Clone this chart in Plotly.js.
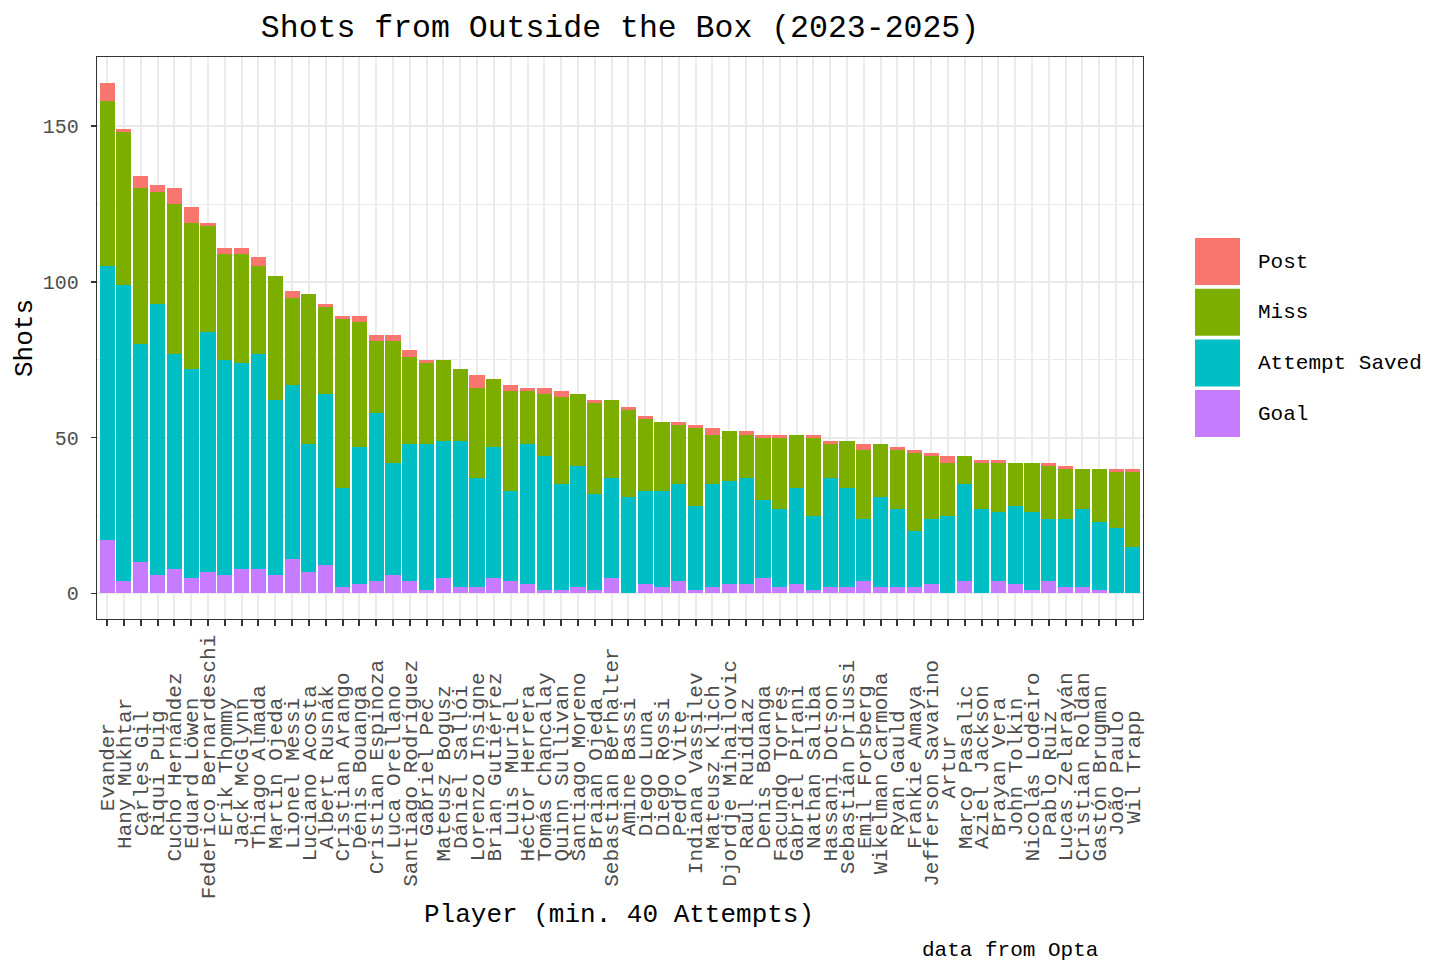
<!DOCTYPE html>
<html>
<head>
<meta charset="utf-8">
<script src="https://cdn.plot.ly/plotly-3.0.1.min.js"></script>
<style>
  html, body { margin: 0; padding: 0; background: #ffffff; }
  #chart { width: 1456px; height: 977px; }
</style>
</head>
<body>
<div id="chart"></div>
<script>
// players, sorted by total attempts from outside the box
var players = [
  'Evander', 'Hany Mukhtar', 'Carles Gil', 'Riqui Puig', 'Cucho Hernández',
  'Eduard Löwen', 'Federico Bernardeschi', 'Erik Thommy', 'Jack McGlynn', 'Thiago Almada',
  'Martín Ojeda', 'Lionel Messi', 'Luciano Acosta', 'Albert Rusnák', 'Cristian Arango',
  'Dénis Bouanga', 'Cristian Espinoza', 'Luca Orellano', 'Santiago Rodríguez', 'Gabriel Pec',
  'Mateusz Bogusz', 'Dániel Sallói', 'Lorenzo Insigne', 'Brian Gutiérrez', 'Luis Muriel',
  'Héctor Herrera', 'Tomás Chancalay', 'Quinn Sullivan', 'Santiago Moreno', 'Braian Ojeda',
  'Sebastian Berhalter', 'Amine Bassi', 'Diego Luna', 'Diego Rossi', 'Pedro Vite',
  'Indiana Vassilev', 'Mateusz Klich', 'Djordje Mihailovic', 'Raúl Ruidíaz', 'Denis Bouanga',
  'Facundo Torres', 'Gabriel Pirani', 'Nathan Saliba', 'Hassani Dotson', 'Sebastián Driussi',
  'Emil Forsberg', 'Wikelman Carmona', 'Ryan Gauld', 'Frankie Amaya', 'Jefferson Savarino',
  'Artur', 'Marco Pasalic', 'Aziel Jackson', 'Brayan Vera', 'John Tolkin',
  'Nicolás Lodeiro', 'Pablo Ruiz', 'Lucas Zelarayán', 'Cristian Roldan', 'Gastón Brugman',
  'João Paulo', 'Wil Trapp'
];

// shot outcomes per player
var goal = [
  17, 4, 10, 6, 8, 5, 7, 6, 8, 8,
  6, 11, 7, 9, 2, 3, 4, 6, 4, 1,
  5, 2, 2, 5, 4, 3, 1, 1, 2, 1,
  5, 0, 3, 2, 4, 1, 2, 3, 3, 5,
  2, 3, 1, 2, 2, 4, 2, 2, 2, 3,
  0, 4, 0, 4, 3, 1, 4, 2, 2, 1,
  0, 0
];
var saved = [
  88, 95, 70, 87, 69, 67, 77, 69, 66, 69,
  56, 56, 41, 55, 32, 44, 54, 36, 44, 47,
  44, 47, 35, 42, 29, 45, 43, 34, 39, 31,
  32, 31, 30, 31, 31, 27, 33, 33, 34, 25,
  25, 31, 24, 35, 32, 20, 29, 25, 18, 21,
  25, 31, 27, 22, 25, 25, 20, 22, 25, 22,
  21, 15
];
var miss = [
  53, 49, 50, 36, 48, 47, 34, 34, 35, 28,
  40, 28, 48, 28, 54, 40, 23, 39, 28, 26,
  26, 23, 29, 22, 32, 17, 20, 28, 23, 29,
  25, 28, 23, 22, 19, 25, 16, 16, 14, 20,
  23, 17, 25, 11, 15, 22, 17, 19, 25, 20,
  17, 9, 15, 16, 14, 16, 17, 16, 13, 17,
  18, 24
];
var post = [
  6, 1, 4, 2, 5, 5, 1, 2, 2, 3,
  0, 2, 0, 1, 1, 2, 2, 2, 2, 1,
  0, 0, 4, 0, 2, 1, 2, 2, 0, 1,
  0, 1, 1, 0, 1, 1, 2, 0, 1, 1,
  1, 0, 1, 1, 0, 2, 0, 1, 1, 1,
  2, 0, 1, 1, 0, 0, 1, 1, 0, 0,
  1, 1
];

// stacked bottom to top
var outcomes = ['Goal', 'Attempt Saved', 'Miss', 'Post'];
var counts = [goal, saved, miss, post];
var colors = ['#C77CFF', '#00BFC4', '#7CAE00', '#F8766D'];

var FONT = '"Courier New", "Nimbus Mono PS", FreeMono, "Liberation Mono", monospace';
var NBSP = '\u00A0';

// ggplot centres rotated labels; pad with spaces (monospace) to fake it
var maxLen = Math.max.apply(null, players.map(p => p.length));
var tickText = players.map(function(p) {
    var extra = maxLen - p.length;
    var left = Math.floor(extra / 2), right = extra - left;
    return NBSP.repeat(left) + p.replace(/ /g, NBSP) + NBSP.repeat(right);
});

var traces = outcomes.map(function(name, i) {
    return {
        type: 'bar',
        name: name,
        x: players,
        y: counts[i],
        marker: { color: colors[i], line: { width: 0 } },
        hovertemplate: '%{x}<br>' + name + ': %{y}<extra></extra>'
    };
});

// plot area in pixels
var W = 1456, H = 977;
var L = 97, R = 1143, T = 57, B = 619;
function px2x(px) { return (px - L) / (R - L); }
function px2y(py) { return (B - py) / (B - T); }

// hand-made legend, big squares like ggplot's
var shapes = [], annotations = [];
var legendOrder = outcomes.slice().reverse();
legendOrder.forEach(function(name, i) {
    var top = 238 + i * 50.7;
    shapes.push({
        type: 'rect', xref: 'paper', yref: 'paper',
        x0: px2x(1195), x1: px2x(1240),
        y0: px2y(top + 47), y1: px2y(top),
        fillcolor: colors[outcomes.indexOf(name)],
        line: { width: 0 }
    });
    annotations.push({
        xref: 'paper', yref: 'paper',
        x: px2x(1256), y: px2y(top + 24),
        xanchor: 'left', yanchor: 'middle',
        text: name, showarrow: false,
        font: { family: FONT, size: 21, color: '#000000' }
    });
});

annotations.push({
    xref: 'paper', yref: 'paper',
    x: px2x(619), y: px2y(915),
    xanchor: 'center', yanchor: 'middle',
    text: 'Player (min. 40 Attempts)', showarrow: false,
    font: { family: FONT, size: 26, color: '#000000' }
});
annotations.push({
    xref: 'paper', yref: 'paper',
    x: px2x(25), y: px2y(338),
    xanchor: 'center', yanchor: 'middle', textangle: -90,
    text: 'Shots', showarrow: false,
    font: { family: FONT, size: 26, color: '#000000' }
});
annotations.push({
    xref: 'paper', yref: 'paper',
    x: px2x(1100), y: px2y(950),
    xanchor: 'right', yanchor: 'middle',
    text: 'data from Opta', showarrow: false,
    font: { family: FONT, size: 21, color: '#000000' }
});

var layout = {
    width: W,
    height: H,
    margin: { l: L, r: W - R, t: T, b: H - B, pad: 0 },
    paper_bgcolor: '#ffffff',
    plot_bgcolor: '#ffffff',
    barmode: 'stack',
    bargap: 0.1,
    showlegend: false,
    font: { family: FONT, color: '#000000' },
    title: {
        text: 'Shots from Outside the Box (2023-2025)',
        font: { family: FONT, size: 31.5, color: '#000000' },
        xref: 'paper', x: 0.5, xanchor: 'center',
        yref: 'container', y: 1 - 26 / H, yanchor: 'middle'
    },
    xaxis: {
        type: 'category',
        range: [-0.6, players.length - 0.4],
        tickmode: 'array',
        tickvals: players,
        ticktext: tickText,
        tickangle: -90,
        tickfont: { family: FONT, size: 21, color: '#4D4D4D' },
        ticks: 'outside', ticklen: 6, tickwidth: 2, tickcolor: '#333333',
        showgrid: true, gridcolor: '#EBEBEB', gridwidth: 2,
        showline: true, mirror: true, linecolor: '#333333', linewidth: 1.3,
        zeroline: false,
        automargin: false
    },
    yaxis: {
        range: [-8.2, 172.2],
        tickmode: 'array',
        tickvals: [0, 50, 100, 150],
        tickfont: { family: FONT, size: 20, color: '#4D4D4D' },
        ticks: 'outside', ticklen: 5, tickwidth: 1.5, tickcolor: '#333333',
        ticklabelstandoff: 8,
        showgrid: true, gridcolor: '#EBEBEB', gridwidth: 2,
        minor: { tickvals: [25, 75, 125], showgrid: true, gridcolor: '#EBEBEB', gridwidth: 1, ticks: '' },
        showline: true, mirror: true, linecolor: '#333333', linewidth: 1.3,
        zeroline: false,
        automargin: false
    },
    shapes: shapes,
    annotations: annotations
};

Plotly.newPlot('chart', traces, layout, { displayModeBar: false, staticPlot: true });
</script>
</body>
</html>
